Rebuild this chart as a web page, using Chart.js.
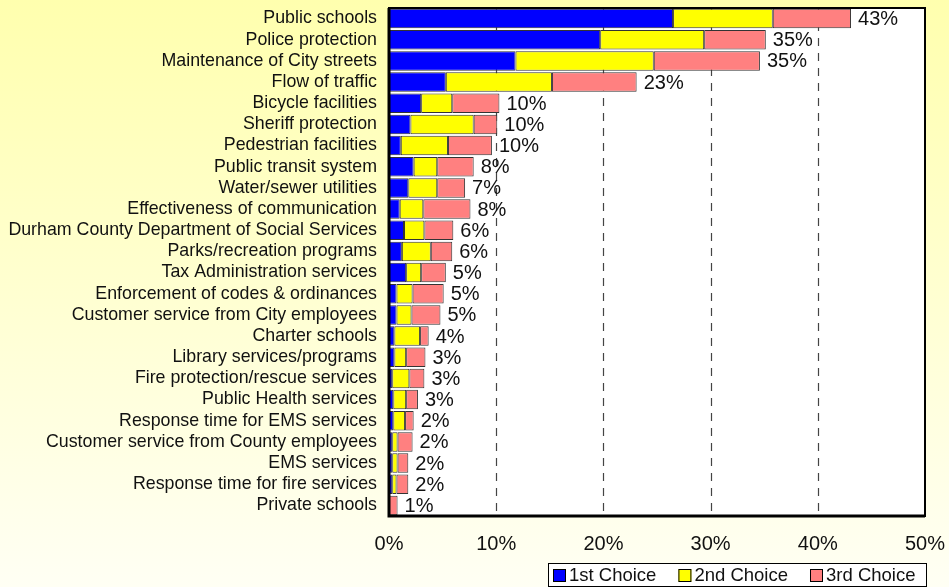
<!DOCTYPE html>
<html>
<head>
<meta charset="utf-8">
<script src="https://cdn.jsdelivr.net/npm/chart.js@4/dist/chart.umd.min.js"></script>
<style>
  html, body { margin: 0; padding: 0; }
  #wrap { width: 949px; height: 587px; }
</style>
</head>
<body>
<div id="wrap"><canvas id="c" width="949" height="587"></canvas></div>
<script>
const categories = [
  "Public schools", "Police protection", "Maintenance of City streets", "Flow of traffic",
  "Bicycle facilities", "Sheriff protection", "Pedestrian facilities", "Public transit system",
  "Water/sewer utilities", "Effectiveness of communication", "Durham County Department of Social Services",
  "Parks/recreation programs", "Tax Administration services", "Enforcement of codes & ordinances",
  "Customer service from City employees", "Charter schools", "Library services/programs",
  "Fire protection/rescue services", "Public Health services", "Response time for EMS services",
  "Customer service from County employees", "EMS services", "Response time for fire services",
  "Private schools"
];
const firstChoice  = [26.5, 19.7, 11.8, 5.3, 3.0, 2.0, 1.1, 2.3, 1.8, 1.0, 1.4, 1.2, 1.6, 0.7, 0.7, 0.5, 0.5, 0.3, 0.4, 0.4, 0.3, 0.3, 0.3, 0];
const secondChoice = [9.3, 9.7, 12.9, 9.9, 2.9, 5.9, 4.4, 2.2, 2.7, 2.2, 1.9, 2.7, 1.4, 1.5, 1.4, 2.4, 1.1, 1.6, 1.2, 1.1, 0.5, 0.5, 0.4, 0];
const thirdChoice  = [7.3, 5.75, 9.9, 7.9, 4.4, 2.2, 4.1, 3.4, 2.6, 4.4, 2.7, 2.0, 2.3, 2.9, 2.7, 0.8, 1.8, 1.4, 1.1, 0.8, 1.4, 1.0, 1.1, 0.8];
const totalLabels  = ["43%","35%","35%","23%","10%","10%","10%","8%","7%","8%","6%","6%","5%","5%","5%","4%","3%","3%","3%","2%","2%","2%","2%","1%"];
const seriesNames  = ["1st Choice", "2nd Choice", "3rd Choice"];
const xTicks = [0, 10, 20, 30, 40, 50];

const FONT = "'Liberation Sans', Arial, sans-serif";

function zeroPad(s) { s.paddingTop = 0; s.paddingBottom = 0; s.paddingLeft = 0; s.paddingRight = 0; }

const bgPlugin = {
  id: 'bg',
  beforeDraw(chart) {
    const ctx = chart.ctx;
    const g = ctx.createLinearGradient(0, 0, 0, chart.height);
    g.addColorStop(0, '#FFFFAE');
    g.addColorStop(1, '#FFFFF4');
    ctx.save();
    ctx.fillStyle = g;
    ctx.fillRect(0, 0, chart.width, chart.height);
    const a = chart.chartArea;
    ctx.fillStyle = '#FFFFFF';
    ctx.fillRect(a.left, a.top, a.right - a.left, a.bottom - a.top);
    ctx.restore();
  },
  beforeDatasetsDraw(chart) {
    // dashed vertical gridlines at the inner ticks
    const ctx = chart.ctx;
    const a = chart.chartArea;
    const xs = chart.scales.x;
    ctx.save();
    ctx.strokeStyle = '#444';
    ctx.lineWidth = 1.2;
    ctx.setLineDash([8, 7]);
    xTicks.slice(1, -1).forEach(v => {
      const px = Math.round(xs.getPixelForValue(v)) + 0.5;
      ctx.beginPath();
      ctx.moveTo(px, a.top);
      ctx.lineTo(px, a.bottom);
      ctx.stroke();
    });
    ctx.restore();
  }
};

const labelPlugin = {
  id: 'totals',
  afterDatasetsDraw(chart) {
    const ctx = chart.ctx;
    const meta = chart.getDatasetMeta(2);
    ctx.save();
    ctx.font = '20px ' + FONT;
    ctx.fillStyle = '#111';
    ctx.textAlign = 'left';
    ctx.textBaseline = 'middle';
    meta.data.forEach((el, i) => {
      ctx.fillText(totalLabels[i], el.x + 7, el.y + 1);
    });
    ctx.restore();
  },
  afterDraw(chart) {
    const ctx = chart.ctx;
    const a = chart.chartArea;
    ctx.save();
    ctx.strokeStyle = '#000';
    ctx.lineWidth = 2;
    ctx.strokeRect(a.left, a.top, a.right - a.left, a.bottom - a.top);
    ctx.lineWidth = 3;
    ctx.beginPath();
    ctx.moveTo(a.left, a.top);
    ctx.lineTo(a.left, a.bottom);
    ctx.lineTo(a.right, a.bottom);
    ctx.stroke();

    // legend
    const bx = 548, by = 563, bw = 378, bh = 23;
    ctx.fillStyle = '#FFFFFF';
    ctx.fillRect(bx, by, bw, bh);
    ctx.lineWidth = 1;
    ctx.strokeStyle = '#000';
    ctx.strokeRect(bx + 0.5, by + 0.5, bw, bh);
    ctx.font = '18.5px ' + FONT;
    ctx.textBaseline = 'middle';
    ctx.textAlign = 'left';
    let x = bx + 5;
    const cy = by + bh / 2 + 1;
    chart.data.datasets.forEach((ds) => {
      ctx.fillStyle = ds.backgroundColor;
      ctx.fillRect(x, cy - 6.5, 13, 13);
      ctx.strokeStyle = '#000';
      ctx.strokeRect(x + 0.5, cy - 6.5 + 0.5, 12, 12);
      ctx.fillStyle = '#111';
      ctx.fillText(ds.label, x + 16, cy);
      x += 16 + ctx.measureText(ds.label).width + 22;
    });
    ctx.restore();
  }
};

new Chart(document.getElementById('c'), {
  type: 'bar',
  data: {
    labels: categories,
    datasets: [
      { label: seriesNames[0], data: firstChoice,  backgroundColor: '#0000FF' },
      { label: seriesNames[1], data: secondChoice, backgroundColor: '#FFFF00' },
      { label: seriesNames[2], data: thirdChoice,  backgroundColor: '#FF8080' }
    ].map(d => Object.assign(d, {
      borderColor: '#333333', borderWidth: 1, borderSkipped: false,
      categoryPercentage: 1.0, barPercentage: 0.92
    }))
  },
  options: {
    indexAxis: 'y',
    responsive: false,
    animation: false,
    devicePixelRatio: 1,
    layout: { padding: { top: 8, right: 24, bottom: 0, left: 0 } },
    plugins: { legend: { display: false }, tooltip: { enabled: false } },
    scales: {
      x: {
        stacked: true,
        min: 0, max: 50,
        afterFit(s) { s.height = 71; zeroPad(s); },
        afterBuildTicks(s) { s.ticks = xTicks.map(v => ({ value: v })); },
        ticks: {
          padding: 16,
          color: '#111',
          font: { family: FONT, size: 20 },
          callback: v => v + '%',
          maxRotation: 0
        },
        grid: { display: false, drawTicks: false },
        border: { display: false }
      },
      y: {
        stacked: true,
        afterFit(s) { s.width = 389; zeroPad(s); },
        ticks: {
          padding: 12,
          color: '#111',
          font: { family: FONT, size: 17.8 },
          autoSkip: false
        },
        grid: { display: false, drawTicks: false },
        border: { display: false }
      }
    }
  },
  plugins: [bgPlugin, labelPlugin]
});
</script>
</body>
</html>
